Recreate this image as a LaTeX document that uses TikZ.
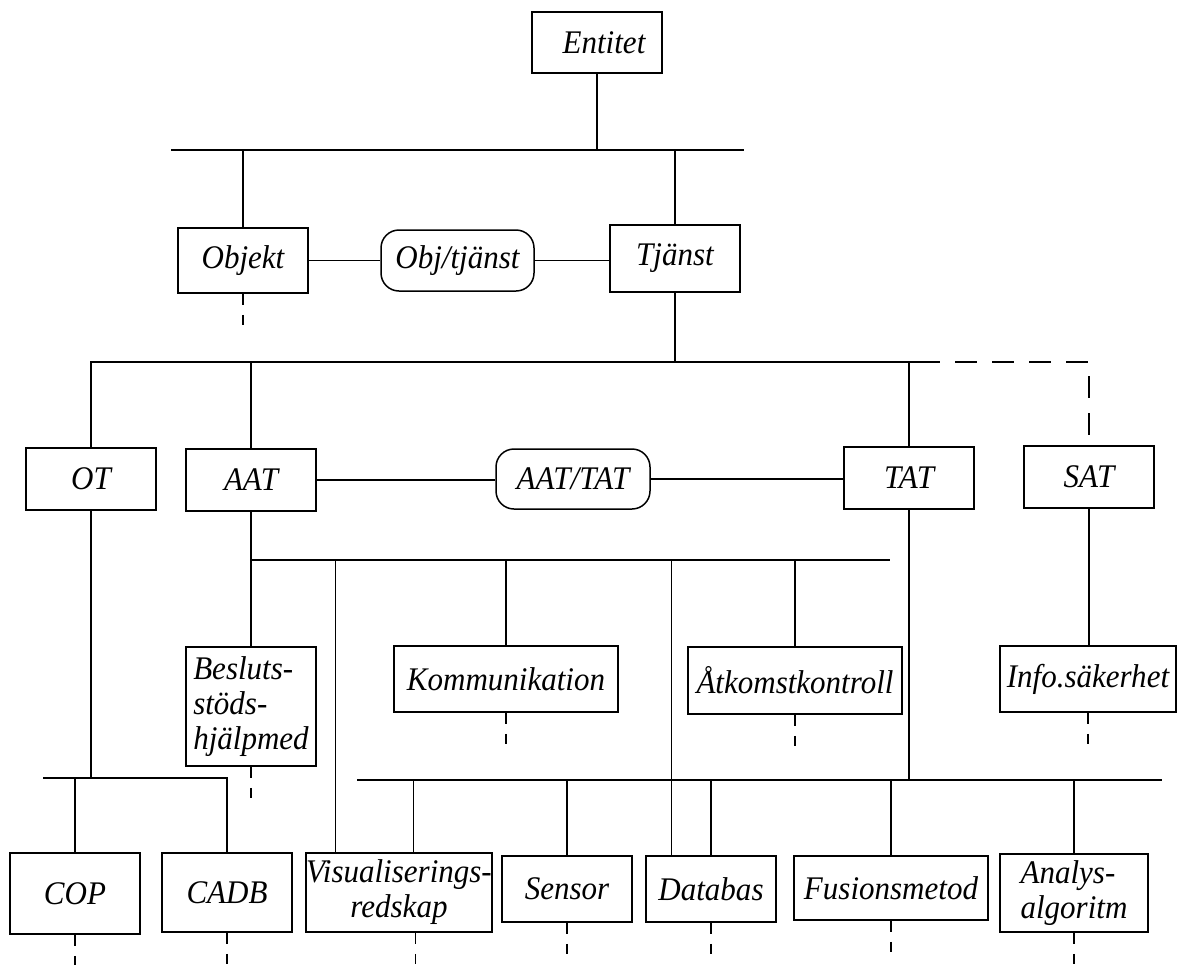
\documentclass[tikz,border=0pt]{standalone}
\usepackage{fontspec}
\setmainfont{Liberation Serif}[FakeStretch=0.94]
\usetikzlibrary{calc}
\begin{document}
\begin{tikzpicture}[x=0.5pt,y=-0.5pt,
  lw/.style={line width=0.75pt},
  box/.style={lw, draw, rectangle, inner sep=0pt, align=center,
    font=\fontsize{16.5}{17.5}\selectfont\itshape},
  rel/.style={box, rounded corners=9pt},
  conn/.style={lw},
  link/.style={lw, dash pattern=on 11pt off 7.5pt},
  stub/.style={lw, dash pattern=on 5.5pt off 5pt}]
\useasboundingbox (0,0) rectangle (1177,964);

% --- class boxes ---
\node[box, minimum width=65pt, minimum height=30.5pt] (Entitet) at (597,42.5) {\hspace{7pt}Entitet};
\node[box, minimum width=65pt, minimum height=32.5pt] (Objekt) at (243,260.5) {Objekt};
\node[box, minimum width=65pt, minimum height=33.5pt] (Tjanst) at (675,258.5) {Tjänst};
\node[rel, minimum width=76.5pt, minimum height=30.5pt] (ObjTj) at (457.5,260.5) {Obj/tjänst};

\node[box, minimum width=65pt, minimum height=31pt] (OT) at (91,479) {OT};
\node[box, minimum width=65pt, minimum height=31pt] (AAT) at (251,480) {AAT};
\node[rel, minimum width=77pt, minimum height=30pt] (AATTAT) at (573,479) {AAT/TAT};
\node[box, minimum width=65pt, minimum height=31pt] (TAT) at (909,478) {TAT};
\node[box, minimum width=65pt, minimum height=31pt] (SAT) at (1089,477) {SAT};

\node[box, align=left, minimum width=65pt, minimum height=59.5pt] (Besluts) at (251,706.5) {Besluts-\\stöds-\\hjälpmed};
\node[box, minimum width=112pt, minimum height=33pt] (Komm) at (506,679) {Kommunikation};
\node[box, minimum width=107pt, minimum height=33.5pt] (Atk) at (795,680.5) {Åtkomstkontroll};
\node[box, minimum width=88pt, minimum height=33pt] (Info) at (1088,679) {Info.säkerhet};

\node[box, minimum width=65pt, minimum height=40.5pt] (COP) at (75,893.5) {COP};
\node[box, minimum width=65pt, minimum height=39.5pt] (CADB) at (227,892.5) {CADB};
\node[box, minimum width=93pt, minimum height=39.5pt] (Visual) at (399,892.5) {Visualiserings-\\redskap};
\node[box, minimum width=65pt, minimum height=33pt] (Sensor) at (567,889) {Sensor};
\node[box, minimum width=65pt, minimum height=33pt] (Databas) at (711,889) {Databas};
\node[box, minimum width=97pt, minimum height=32pt] (Fusion) at (891,888) {Fusionsmetod};
\node[box, align=left, minimum width=74pt, minimum height=39pt] (Analys) at (1074,893) {Analys-\\algoritm};

% --- bus lines ---
\coordinate (b1l) at (171,150);
\coordinate (b1r) at (744,150);
\coordinate (b2r) at (918,362);
\coordinate (b3r) at (890,560);
\coordinate (otl) at (43,778);
\coordinate (tl) at (357,780);
\coordinate (tr) at (1162,780);
\coordinate (vistop) at ($(Visual.north west)+(30,0)$);
\coordinate (vistop2) at ($(Visual.north west)+(108,0)$);
\coordinate (visbot) at ($(Visual.south west)+(110,0)$);
\coordinate (dbtop) at ($(Databas.north west)+(26,0)$);

% level 1
\draw[conn] (b1l) -- (b1r);
\draw[conn] (Entitet.south) -- (Entitet.south |- b1l);
\draw[conn] (Objekt.north) -- (Objekt.north |- b1l);
\draw[conn] (Tjanst.north) -- (Tjanst.north |- b1l);
\draw[conn] (Objekt.east) -- (ObjTj.west);
\draw[conn] (ObjTj.east) -- (ObjTj.east -| Tjanst.west);

% level 2
\draw[conn] (OT.north) |- (b2r);
\draw[conn] (Tjanst.south) -- (Tjanst.south |- b2r);
\draw[conn] (AAT.north) -- (AAT.north |- b2r);
\draw[conn] (TAT.north) -- (TAT.north |- b2r);
\draw[link] (b2r) -| (SAT.north);
\draw[conn] (AAT.east) -- (AAT.east -| AATTAT.west);
\draw[conn] (AATTAT.east) -- (AATTAT.east -| TAT.west);

% level 3 (AAT)
\draw[conn] (Besluts.north) -- (AAT.south);
\draw[conn] (AAT.south |- b3r) -- (b3r);
\draw[conn] (vistop) -- (vistop |- b3r);
\draw[conn] (Komm.north) -- (Komm.north |- b3r);
\draw[conn] (dbtop) -- (dbtop |- b3r);
\draw[conn] (Atk.north) -- (Atk.north |- b3r);

% SAT
\draw[conn] (SAT.south) -- (SAT.south |- Info.north);

% OT bus
\draw[conn] (OT.south) -- (OT.south |- otl);
\draw[conn] (CADB.north) |- (otl);
\draw[conn] (COP.north) -- (COP.north |- otl);

% TAT bus
\draw[conn] (tl) -- (tr);
\draw[conn] (TAT.south) -- (TAT.south |- tl);
\draw[conn] (vistop2) -- (vistop2 |- tl);
\draw[conn] (Sensor.north) -- (Sensor.north |- tl);
\draw[conn] (Databas.north) -- (Databas.north |- tl);
\draw[conn] (Fusion.north) -- (Fusion.north |- tl);
\draw[conn] (Analys.north) -- (Analys.north |- tl);

% continuation stubs
\foreach \n in {Objekt,Besluts,Komm,Atk,Info,COP,CADB,Sensor,Databas,Fusion,Analys}
  \draw[stub] (\n.south) -- ++(0,31);
\draw[stub] (visbot) -- ++(0,31);
\end{tikzpicture}
\end{document}
